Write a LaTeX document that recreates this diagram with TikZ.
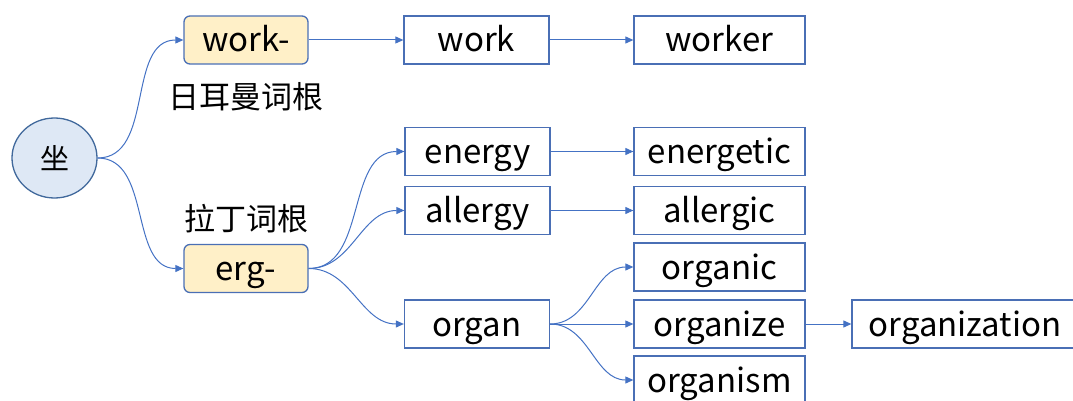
\documentclass[tikz,border=0pt]{standalone}
\usepackage{fontspec}
\setmainfont{Noto Sans CJK SC}
\usetikzlibrary{arrows.meta,shapes.geometric}
\definecolor{lineblue}{HTML}{4472C4}
\definecolor{boxblue}{HTML}{4A6FB5}
\definecolor{rootfill}{HTML}{DEE8F5}
\definecolor{rootdraw}{HTML}{41699C}
\definecolor{yellowfill}{HTML}{FFF0C8}
\tikzset{
  wbox/.style={draw=boxblue, line width=1.3pt, inner sep=0pt, minimum height=48pt, text height=31pt, text depth=7pt, font=\fontsize{33}{35}\selectfont},
  rbox/.style={wbox, rounded corners=6pt, fill=yellowfill, minimum width=124pt},
  conn/.style={draw=lineblue, line width=1pt, -{Triangle[length=8pt,width=7pt]}},
  lbl/.style={font=\fontsize{31}{33}\selectfont, inner sep=0pt, anchor=base}
}
\begin{document}
\begin{tikzpicture}[x=1pt,y=-1pt]
\useasboundingbox (0,0) rectangle (1073,401);
\node[ellipse, draw=rootdraw, fill=rootfill, line width=1.3pt, minimum width=85pt, minimum height=80pt, inner sep=0pt, text height=26pt, text depth=4pt, font=\fontsize{29}{31}\selectfont] (root) at (54.5,158) {坐};
\node[rbox] (workp) at (246,40) {work-};
\node[rbox] (ergp) at (246,268.5) {erg-};
\node[lbl] (ger) at (246,109) {日耳曼词根};
\node[lbl] (lat) at (246,230) {拉丁词根};
\node[wbox, minimum width=145pt] (work) at (476.5,40) {work};
\node[wbox, minimum width=171pt] (worker) at (719.5,40) {worker};
\node[wbox, minimum width=145pt] (energy) at (477.5,151.5) {energy};
\node[wbox, minimum width=171pt] (energetic) at (719.5,151.5) {energetic};
\node[wbox, minimum width=145pt] (allergy) at (477.5,210.5) {allergy};
\node[wbox, minimum width=171pt] (allergic) at (719.5,210.5) {allergic};
\node[wbox, minimum width=145pt] (organ) at (477,324) {organ};
\node[wbox, minimum width=171pt] (organic) at (719.5,267) {organic};
\node[wbox, minimum width=171pt] (organize) at (719.5,324) {organize};
\node[wbox, minimum width=171pt] (organism) at (719.5,380) {organism};
\node[wbox, minimum width=226pt] (organization) at (965,324) {organization};
\draw[conn] (root.east) to[out=0,in=180] (workp.west);
\draw[conn] (root.east) to[out=0,in=180] (ergp.west);
\draw[conn] (workp.east) -- (work.west);
\draw[conn] (work.east) -- (worker.west);
\draw[conn] (ergp.east) to[out=0,in=180] (energy.west);
\draw[conn] (ergp.east) to[out=0,in=180] (allergy.west);
\draw[conn] (ergp.east) to[out=0,in=180] (organ.west);
\draw[conn] (energy.east) -- (energetic.west);
\draw[conn] (allergy.east) -- (allergic.west);
\draw[conn] (organ.east) to[out=0,in=180] (organic.west);
\draw[conn] (organ.east) -- (organize.west);
\draw[conn] (organ.east) to[out=0,in=180] (organism.west);
\draw[conn] (organize.east) -- (organization.west);
\end{tikzpicture}
\end{document}
